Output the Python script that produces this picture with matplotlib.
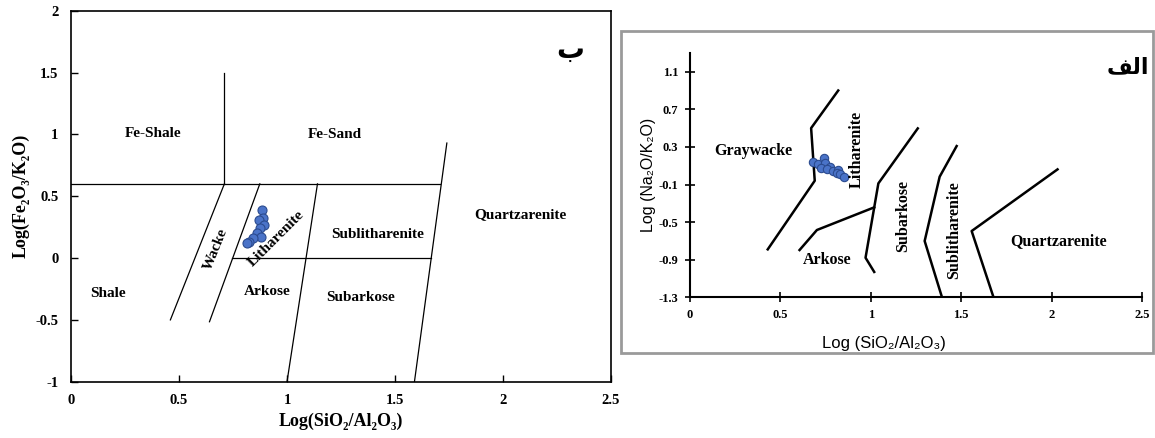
import matplotlib
matplotlib.use("Agg")
import matplotlib.pyplot as plt
from matplotlib.patches import Rectangle

# ---- left panel (b): Fe2O3/K2O vs SiO2/Al2O3 ----
b_x = [0.883, 0.890, 0.872, 0.895, 0.875, 0.860, 0.880, 0.844, 0.825, 0.813]
b_y = [0.389, 0.327, 0.308, 0.268, 0.241, 0.200, 0.173, 0.160, 0.133, 0.120]

b_lines = [
    ([0.0, 1.71], [0.6, 0.6]),
    ([0.71, 0.71], [1.5, 0.6]),
    ([0.71, 0.46], [0.6, -0.5]),
    ([0.874, 0.641], [0.6, -0.515]),
    ([1.141, 1.0], [0.6, -1.0]),
    ([0.747, 1.668], [0.0, 0.0]),
    ([1.74, 1.59], [0.93, -1.0]),
]
b_labels = [
    ("Fe-Shale", 0.38, 1.01, 0),
    ("Fe-Sand", 1.22, 1.0, 0),
    ("Quartzarenite", 2.08, 0.35, 0),
    ("Sublitharenite", 1.42, 0.19, 0),
    ("Subarkose", 1.34, -0.32, 0),
    ("Arkose", 0.91, -0.27, 0),
    ("Shale", 0.17, -0.29, 0),
    ("Wacke", 0.67, 0.07, 68),
    ("Litharenite", 0.95, 0.16, 45),
]

# ---- right panel (a): Na2O/K2O vs SiO2/Al2O3 ----
a_x = [0.682, 0.710, 0.741, 0.747, 0.723, 0.774, 0.756, 0.793, 0.820, 0.811, 0.830, 0.852]
a_y = [0.143, 0.115, 0.179, 0.125, 0.079, 0.089, 0.065, 0.044, 0.054, 0.019, 0.009, -0.017]

a_lines = [
    ([0.43, 0.69, 0.67, 0.82], [-0.79, -0.06, 0.50, 0.90]),
    ([0.606, 0.702, 1.019], [-0.797, -0.584, -0.343]),
    ([1.019, 0.971, 1.042, 1.26], [-1.03, -0.879, -0.088, 0.497]),
    ([1.394, 1.298, 1.381, 1.475], [-1.30, -0.701, -0.017, 0.309]),
    ([1.679, 1.558, 2.033], [-1.30, -0.595, 0.061]),
]
a_labels = [
    ("Graywacke", 0.35, 0.26, 0),
    ("Litharenite", 0.92, 0.27, 90),
    ("Subarkose", 1.18, -0.43, 90),
    ("Sublitharenite", 1.46, -0.58, 90),
    ("Quartzarenite", 2.04, -0.70, 0),
    ("Arkose", 0.76, -0.90, 0),
]

serif = ["Liberation Serif", "DejaVu Serif"]
sans = ["Liberation Sans", "DejaVu Sans"]
pt_face = "#4a73c8"
pt_edge = "#2b4b8f"

fig = plt.figure(figsize=(11.55, 4.38), dpi=100)

# left axes
ax1 = fig.add_axes([0.0615, 0.1285, 0.4675, 0.847])
for xs, ys in b_lines:
    ax1.plot(xs, ys, color="black", lw=0.9)
ax1.plot(b_x, b_y, "o", ms=6.5, mfc=pt_face, mec=pt_edge, mew=0.8)
for txt, x, y, rot in b_labels:
    ax1.text(x, y, txt, ha="center", va="center", rotation=rot,
             family=serif, fontweight="bold", fontsize=11)
ax1.text(2.31, 1.68, "ب", ha="center", va="center", fontsize=20, fontweight="bold",
         family="DejaVu Sans")
ax1.set_xlim(0, 2.5)
ax1.set_ylim(-1, 2)
tick_font = {"family": serif, "weight": "bold", "size": 10.5}
ax1.set_xticks([0, 0.5, 1, 1.5, 2, 2.5])
ax1.set_xticklabels(["0", "0.5", "1", "1.5", "2", "2.5"], fontdict=tick_font)
ax1.set_yticks([-1, -0.5, 0, 0.5, 1, 1.5, 2])
ax1.set_yticklabels(["-1", "-0.5", "0", "0.5", "1", "1.5", "2"], fontdict=tick_font)
ax1.tick_params(direction="in", length=5, width=1, pad=9)
for sp in ax1.spines.values():
    sp.set_linewidth(1.2)
ax1.set_xlabel("Log(SiO₂/Al₂O₃)", family=serif, fontweight="bold", fontsize=13, labelpad=4)
ax1.set_ylabel("Log(Fe₂O₃/K₂O)", family=serif, fontweight="bold", fontsize=13, labelpad=4)

# frame around right panel
fig.patches.append(Rectangle((0.5377, 0.194), 0.4606, 0.735, transform=fig.transFigure,
                             fill=False, edgecolor="#9a9a9a", lw=2))

# right axes
ax2 = fig.add_axes([0.5974, 0.3212, 0.3913, 0.558])
for xs, ys in a_lines:
    ax2.plot(xs, ys, color="black", lw=1.8)
ax2.plot(a_x, a_y, "o", ms=6, mfc=pt_face, mec=pt_edge, mew=0.8)
for txt, x, y, rot in a_labels:
    ax2.text(x, y, txt, ha="center", va="center", rotation=rot,
             family=serif, fontweight="bold", fontsize=11.5)
ax2.text(2.42, 1.15, "\uFED2\uFEDF\u0627", ha="center", va="center", fontsize=16,
         fontweight="bold", family="DejaVu Sans")
ax2.set_xlim(0, 2.5)
ax2.set_ylim(-1.3, 1.3)
tick_font2 = {"family": serif, "weight": "bold", "size": 9}
ax2.set_xticks([0, 0.5, 1, 1.5, 2, 2.5])
ax2.set_xticklabels(["0", "0.5", "1", "1.5", "2", "2.5"], fontdict=tick_font2)
ax2.set_yticks([-1.3, -0.9, -0.5, -0.1, 0.3, 0.7, 1.1])
ax2.set_yticklabels(["-1.3", "-0.9", "-0.5", "-0.1", "0.3", "0.7", "1.1"], fontdict=tick_font2)
ax2.spines["top"].set_visible(False)
ax2.spines["right"].set_visible(False)
ax2.spines["left"].set_linewidth(1.5)
ax2.spines["bottom"].set_linewidth(1.5)
ax2.tick_params(direction="inout", length=7, width=1.2, pad=5)
ax2.text(0.43, -0.19, "Log (SiO₂/Al₂O₃)", transform=ax2.transAxes, ha="center", va="center",
         family=sans, fontsize=12)
ax2.set_ylabel("Log (Na₂O/K₂O)", family=sans, fontsize=11.5, labelpad=2)

fig.savefig("out.png", dpi=100)
